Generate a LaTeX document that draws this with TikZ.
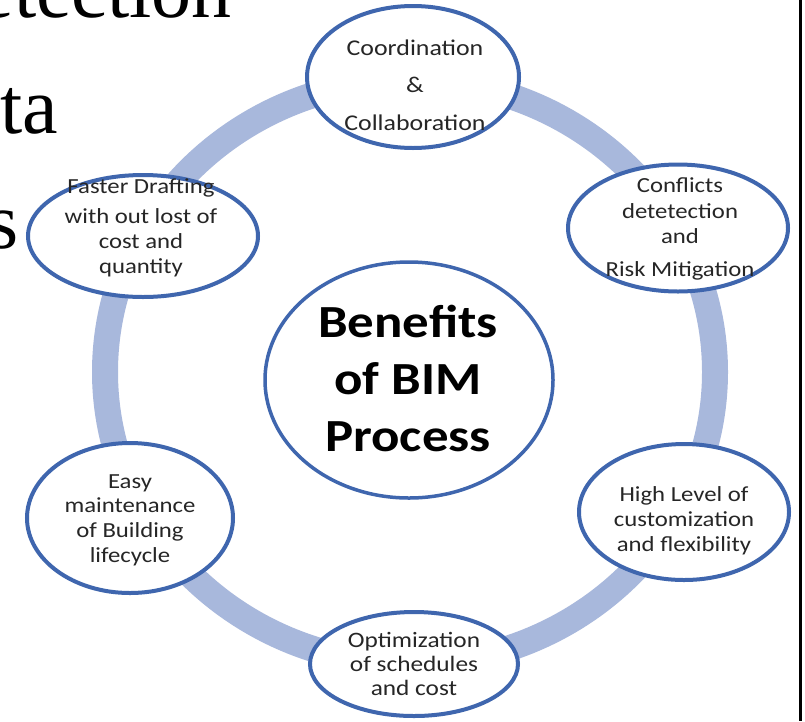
\documentclass[tikz,border=0pt]{standalone}
\usepackage{fontspec}
\setmainfont{Carlito}[FakeStretch=1.15]
\newfontfamily\timesfont{Liberation Serif}
\usetikzlibrary{shapes.geometric}
\definecolor{ringblue}{HTML}{A8B8DC}
\definecolor{edgeblue}{HTML}{3F66AE}
\definecolor{txtgray}{HTML}{262626}
\tikzset{
  bubble/.style={ellipse, draw=edgeblue, line width=4pt, fill=white, inner sep=0pt},
  smalltxt/.style={align=center, text=txtgray, inner sep=0pt},
  ringline/.style={draw=ringblue, line width=26pt},
  bigserif/.style={anchor=base east, inner sep=0pt, font=\timesfont\fontsize{80}{80}\selectfont}
}
\begin{document}
\begin{tikzpicture}[x=1pt,y=-1pt]
\useasboundingbox (0,0) rectangle (805,721);
\fill[white] (0,0) rectangle (805,721);
\clip (0,0) rectangle (805,721);
% large cut-off serif text at the top left
\node[bigserif] (w1) at (232,17) {etection};
\node[bigserif] (w2) at (58,133) {ta};
\node[bigserif] (w3) at (19,248) {s};
% ring
\coordinate (ringc) at (410,372);
\draw[ringline] (ringc) ellipse [x radius=305, y radius=292];
% ellipses
\node[bubble, minimum width=212pt, minimum height=142pt] (coord) at (413,77) {};
\node[bubble, minimum width=220pt, minimum height=127pt] (conf) at (678,228) {};
\node[bubble, minimum width=230pt, minimum height=122pt] (fast) at (143,236) {};
\node[bubble, minimum width=210pt, minimum height=136pt] (high) at (684,512) {};
\node[bubble, minimum width=206pt, minimum height=150pt] (easy) at (130,518) {};
\node[bubble, minimum width=208pt, minimum height=104pt] (opt) at (414,664) {};
\node[bubble, line width=3.5pt, minimum width=288pt, minimum height=236pt] (bim) at (409,380) {};
% texts
\node[smalltxt, font=\fontsize{22.5}{37.5}\selectfont] (tcoord) at (415,85) {Coordination\\\&\\Collaboration};
\node[smalltxt, font=\fontsize{21.5}{25.5}\selectfont] (tconf) at (680,229) {Conflicts\\detetection\\and\\[7.5pt]Risk Mitigation};
\node[smalltxt, font=\fontsize{21.5}{25}\selectfont] (tfast) at (141,228) {Faster Drafting\\[5pt]with out lost of\\cost and\\quantity};
\node[smalltxt, font=\fontsize{21.5}{25}\selectfont] (thigh) at (684,521) {High Level of\\customization\\and flexibility};
\node[smalltxt, font=\fontsize{21.5}{24.7}\selectfont] (teasy) at (130,520) {Easy\\maintenance\\of Building\\lifecycle};
\node[smalltxt, font=\fontsize{22}{24}\selectfont] (topt) at (414,664) {Optimization\\of schedules\\and cost};
\node[align=center, inner sep=0pt, text=black, font=\bfseries\fontsize{46}{57}\selectfont] (tbim) at (408,378) {Benefits\\of BIM\\Process};
% right frame line
\draw[line width=3pt, black] (800,0) -- (800,721);
\end{tikzpicture}
\end{document}
